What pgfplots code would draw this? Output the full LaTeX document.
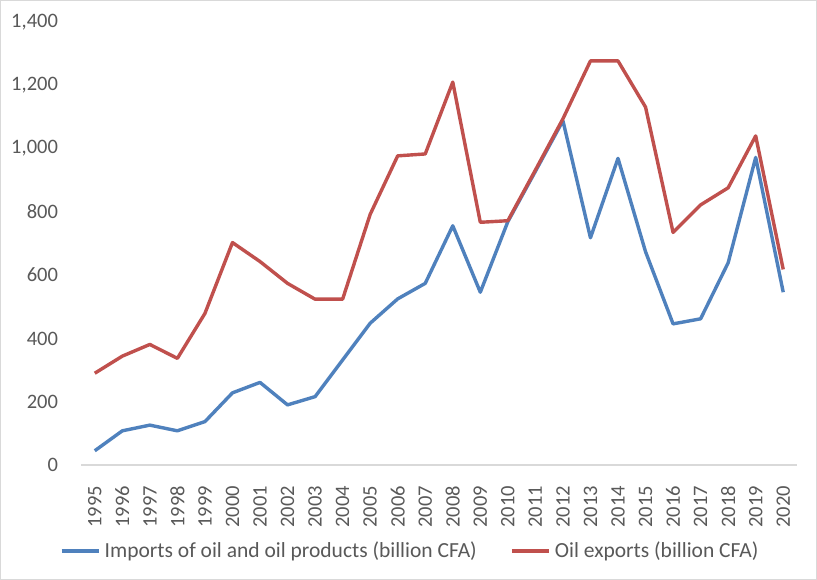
\documentclass[border=0pt]{standalone}
\usepackage{pgfplots}
\pgfplotsset{compat=1.18}
\usepackage{fontspec}
\setmainfont{Carlito}
\definecolor{impblue}{HTML}{4F81BD}
\definecolor{expred}{HTML}{C0504D}
\definecolor{txtgray}{HTML}{595959}
\definecolor{axgray}{HTML}{D9D9D9}
\begin{document}
\begin{tikzpicture}
\fill[white] (0,0) rectangle (408.5bp,290bp);
\draw[axgray,line width=0.6bp] (0.3bp,0.3bp) rectangle (408.2bp,289.7bp);
\useasboundingbox (0,0) rectangle (408.5bp,290bp);
\begin{axis}[
  at={(40.5bp,57.5bp)}, anchor=south west,
  scale only axis,
  width=358bp, height=221.5bp,
  xmin=1994.5, xmax=2020.5,
  ymin=0, ymax=1400,
  xtick=data,
  ytick={0,200,400,600,800,1000,1200,1400},
  axis x line*=bottom,
  axis y line*=left,
  x axis line style={draw=axgray, line width=0.8bp, -},
  y axis line style={draw=none},
  major tick length=0pt,
  tick style={draw=none},
  ymajorgrids=false,
  /pgf/number format/assume math mode=true,
  ticklabel style={font=\fontsize{10.3}{12}\selectfont, text=txtgray},
  x tick label style={rotate=90, anchor=east, /pgf/number format/1000 sep={}},
  xticklabel shift=7bp,
  y tick label style={/pgf/number format/1000 sep={,}, anchor=east},
  yticklabel shift=8bp,
  legend columns=2,
  legend style={at={(axis description cs:0.461,-0.194)}, anchor=center, draw=none, fill=none,
    font=\fontsize{10.8}{12}\selectfont, text=txtgray,
    /tikz/every even column/.append style={column sep=14.5bp},
    inner sep=0pt},
  legend image code/.code={\draw[#1, line width=2bp] (0bp,0bp) -- (18.5bp,0bp);},
  legend cell align=left,
]
\addplot[impblue, line width=1.7bp, line join=round] coordinates {
(1995,45) (1996,108) (1997,126) (1998,108) (1999,137) (2000,228) (2001,261) (2002,190)
(2003,216) (2004,332) (2005,448) (2006,525) (2007,574) (2008,756) (2009,546) (2010,769)
(2011,928) (2012,1088) (2013,718) (2014,969) (2015,674) (2016,446) (2017,462) (2018,639)
(2019,972) (2020,546)
};
\addlegendentry{Imports of oil and oil products (billion CFA)}
\addplot[expred, line width=1.7bp, line join=round] coordinates {
(1995,290) (1996,344) (1997,381) (1998,337) (1999,479) (2000,703) (2001,643) (2002,574)
(2003,524) (2004,524) (2005,792) (2006,977) (2007,983) (2008,1210) (2009,767) (2010,772)
(2011,932) (2012,1094) (2013,1277) (2014,1277) (2015,1131) (2016,735) (2017,822) (2018,876)
(2019,1040) (2020,618)
};
\addlegendentry{Oil exports (billion CFA)}
\end{axis}
\end{tikzpicture}
\end{document}
